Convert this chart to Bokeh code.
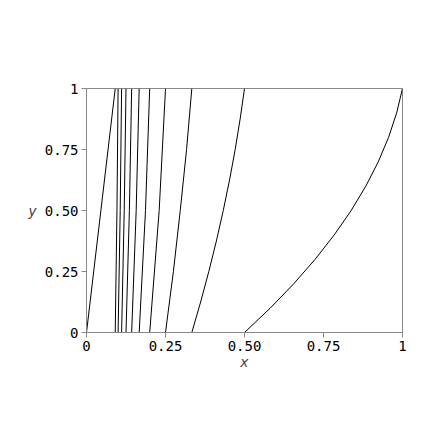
from bokeh.plotting import figure
from bokeh.models import Label, FixedTicker
from bokeh.embed import file_html
from bokeh.resources import INLINE

# Curve data (x values at the listed y values)
y_short = [0, 0.5, 1]

curve_xs = [
    [0.0, 0.0455, 0.0909],
    [0.0909, 0.0964, 0.1],
    [0.1, 0.1067, 0.1111],
    [0.1111, 0.1194, 0.125],
    [0.125, 0.1357, 0.1429],
    [0.1429, 0.1572, 0.1667],
    [0.1667, 0.1867, 0.2],
    [0.2, 0.2300, 0.25],
    [0.25, 0.2750, 0.2967, 0.3167, 0.3333],
    [0.3333, 0.3612, 0.3871, 0.4110, 0.4328, 0.4527, 0.4705, 0.4862, 0.5],
    [0.5, 0.5815, 0.656, 0.7235, 0.784, 0.8375, 0.884, 0.9235, 0.956, 0.9815, 1.0],
]
curve_ys = [y_short] * 8 + [
    [0, 0.25, 0.5, 0.75, 1],
    [0, 0.125, 0.25, 0.375, 0.5, 0.625, 0.75, 0.875, 1],
    [0, 0.1, 0.2, 0.3, 0.4, 0.5, 0.6, 0.7, 0.8, 0.9, 1],
]

x_ticks = [0, 0.25, 0.5, 0.75, 1]
x_tick_labels = ["0", "0.25", "0.50", "0.75", "1"]
y_ticks = [0, 0.25, 0.5, 0.75, 1]
y_tick_labels = ["0", "0.25", "0.50", "0.75", "1"]

FONT = "DejaVu Sans Mono"
GRAY = "#888888"

p = figure(width=430, height=430, output_backend="svg", toolbar_location=None,
           x_range=(0, 1), y_range=(0, 1),
           min_border_left=86, min_border_right=28,
           min_border_top=88, min_border_bottom=98)
p.background_fill_color = "white"
p.border_fill_color = "white"
p.outline_line_color = GRAY
p.outline_line_width = 1
p.xgrid.visible = False
p.ygrid.visible = False

p.multi_line(curve_xs, curve_ys, line_color="black", line_width=1)

for ax, ticks, labels in ((p.xaxis[0], x_ticks, x_tick_labels),
                          (p.yaxis[0], y_ticks, y_tick_labels)):
    ax.ticker = FixedTicker(ticks=ticks)
    ax.major_label_overrides = {t: l for t, l in zip(ticks, labels)}
    ax.minor_tick_line_color = None
    ax.axis_line_color = GRAY
    ax.major_tick_line_color = GRAY
    ax.major_tick_in = 0
    ax.major_tick_out = 5
    ax.major_label_text_font = FONT
    ax.major_label_text_font_size = "14px"
    ax.major_label_text_color = "black"
    ax.major_label_standoff = 3
    ax.axis_label_text_font = FONT
    ax.axis_label_text_font_style = "italic"
    ax.axis_label_text_font_size = "14px"
    ax.axis_label_standoff = 0

p.xaxis[0].axis_label = "x"

ya = p.yaxis[0]
if "axis_label_orientation" in ya.properties():
    ya.axis_label = "y"
    ya.axis_label_orientation = "horizontal"
    ya.axis_label_standoff = 5
else:
    p.add_layout(Label(x=-0.19, y=0.5, text="y", text_font=FONT,
                       text_font_style="italic", text_font_size="14px",
                       text_align="center", text_baseline="middle"))

open("out.html", "w").write(file_html(p, INLINE))
